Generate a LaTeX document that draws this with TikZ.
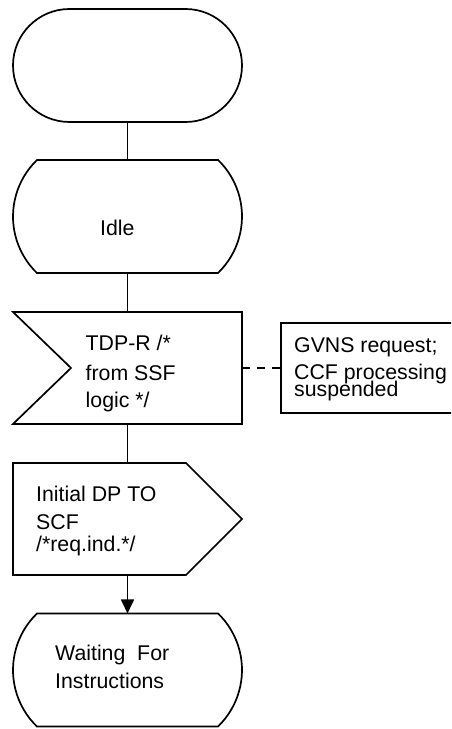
\documentclass[tikz,border=0pt]{standalone}
\usepackage{fontspec}
\setmainfont{Liberation Sans}
\usetikzlibrary{arrows.meta}

\begin{document}
\begin{tikzpicture}[x=1pt,y=1pt,
  sym/.style={minimum width=229pt,minimum height=113pt,inner sep=0pt,outer sep=0pt},
  lbl/.style={anchor=base west,align=left,inner sep=0pt,font=\fontsize{21.3}{24}\selectfont},
  line/.style={line width=1.7pt}]
  \useasboundingbox (0,0) rectangle (451,729);
  \clip (0,0) rectangle (451,729);
  % symbols
  \node[sym,draw,line,rounded corners=56.5pt] (start) at (127.5,663.5) {};
  \node[sym] (idle) at (127.5,512.5) {};
  \node[sym,minimum height=112pt] (tdp) at (127.5,361) {};
  \node[sym,minimum height=112pt] (idp) at (127.5,210) {};
  \node[sym] (wait) at (127.5,59) {};
  \node[draw,line,minimum width=179pt,minimum height=90pt,inner sep=0pt] (gvns) at (370.5,361) {};
  \foreach \s in {idle,wait}
    \draw[line] ([xshift=24pt]\s.north west) arc (134:226:78.6)
      -- ([xshift=-24pt]\s.south east) arc (-46:46:78.6) -- cycle;
  \draw[line] (tdp.north west) -- (tdp.north east) -- (tdp.south east)
    -- (tdp.south west) -- ([xshift=58pt]tdp.west) -- cycle;
  \draw[line] (idp.north west) -- ([xshift=-56pt]idp.north east) -- (idp.east)
    -- ([xshift=-56pt]idp.south east) -- (idp.south west) -- cycle;
  % texts (base = last line)
  \node[lbl] (idletxt) at (100,493) {Idle};
  \node[lbl] (tdptxt) at (85.5,321) {TDP-R /*\\[6pt]from SSF\\[3pt]logic */};
  \node[lbl] (gvnstxt) at (294,332) {GVNS request;\\[3pt]CCF processing\\[-7pt]suspended};
  \node[lbl] (idptxt) at (36,177) {Initial DP TO\\[4pt]SCF\\[-2pt]/*req.ind.*/};
  \node[lbl] (waittxt) at (55,40) {Waiting\ \ For\\[5pt]Instructions};
  % connectors
  \draw[line] (start.south) -- (idle.north);
  \draw[line] (idle.south) -- (tdp.north);
  \draw[line] (tdp.south) -- (idp.north);
  \draw[line,-{Triangle[width=13pt,length=14pt]}] (idp.south) -- (wait.north);
  \draw[line width=2.2pt,dash pattern=on 8pt off 7pt] (tdp.east) -- (gvns.west);
\end{tikzpicture}
\end{document}
